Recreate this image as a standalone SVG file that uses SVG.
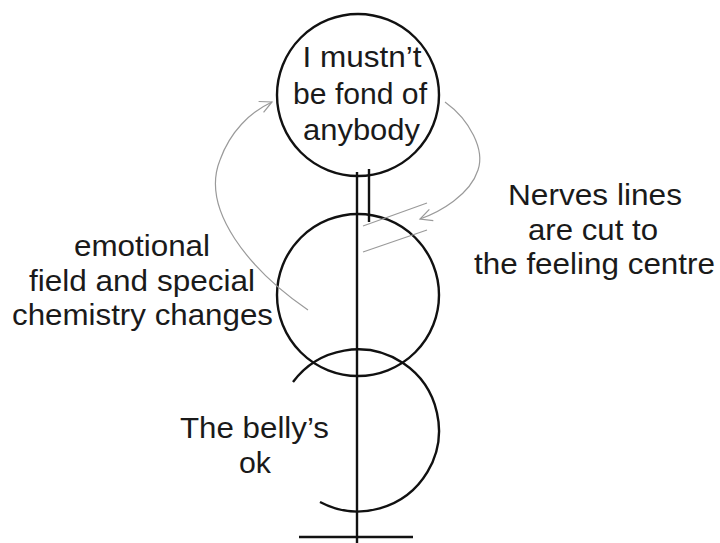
<svg xmlns="http://www.w3.org/2000/svg" width="720" height="543" viewBox="0 0 720 543">
<style>
.blk{fill:none;stroke:#111;stroke-width:2.4}
.gry{fill:none;stroke:#9a9a9a;stroke-width:1.2}
text{font-family:"Liberation Sans",Arial,sans-serif;font-size:30px;fill:#1a1a1a;text-anchor:middle}
</style>
<defs>
<marker id="arr" markerWidth="16" markerHeight="16" refX="14" refY="8" orient="auto" markerUnits="userSpaceOnUse">
<path d="M2,2 L14,8 L2,14" fill="none" stroke="#9a9a9a" stroke-width="1.2"/>
</marker>
</defs>
<rect width="720" height="543" fill="#fff"/>
<g id="head">
<circle class="blk" cx="358" cy="95" r="81"/>
<text x="362" y="67" textLength="119" lengthAdjust="spacingAndGlyphs">I mustn’t</text>
<text x="360" y="104" textLength="134" lengthAdjust="spacingAndGlyphs">be fond of</text>
<text x="361.5" y="140" textLength="117" lengthAdjust="spacingAndGlyphs">anybody</text>
</g>
<g id="chest">
<circle class="blk" cx="358" cy="295" r="81"/>
</g>
<g id="belly">
<path class="blk" d="M293,382 A81,81 0 1 1 320,502"/>
</g>
<g id="spine">
<line class="blk" x1="357" y1="172" x2="357" y2="543"/>
<line class="blk" x1="369" y1="169" x2="369" y2="222"/>
<line class="blk" x1="299" y1="537" x2="413" y2="537"/>
</g>
<g id="connectors">
<path class="gry" d="M308,310 C250,270 200,210 220,160 C230,132 250,112 272,102" marker-end="url(#arr)"/>
<path class="gry" d="M445,102 C470,120 485,150 478,170 C470,195 440,212 420,219" marker-end="url(#arr)"/>
<line class="gry" x1="363" y1="226" x2="427" y2="203"/>
<line class="gry" x1="363" y1="252" x2="427" y2="230"/>
</g>
<g id="label-emotional">
<text x="142" y="256" textLength="136" lengthAdjust="spacingAndGlyphs">emotional</text>
<text x="142" y="291" textLength="226" lengthAdjust="spacingAndGlyphs">field and special</text>
<text x="142.5" y="325" textLength="261" lengthAdjust="spacingAndGlyphs">chemistry changes</text>
</g>
<g id="label-nerves">
<text x="595" y="205" textLength="174" lengthAdjust="spacingAndGlyphs">Nerves lines</text>
<text x="593" y="240" textLength="130" lengthAdjust="spacingAndGlyphs">are cut to</text>
<text x="594.5" y="274" textLength="241" lengthAdjust="spacingAndGlyphs">the feeling centre</text>
</g>
<g id="label-belly">
<text x="254.5" y="438" textLength="149" lengthAdjust="spacingAndGlyphs">The belly’s</text>
<text x="255" y="473" textLength="32" lengthAdjust="spacingAndGlyphs">ok</text>
</g>
</svg>
